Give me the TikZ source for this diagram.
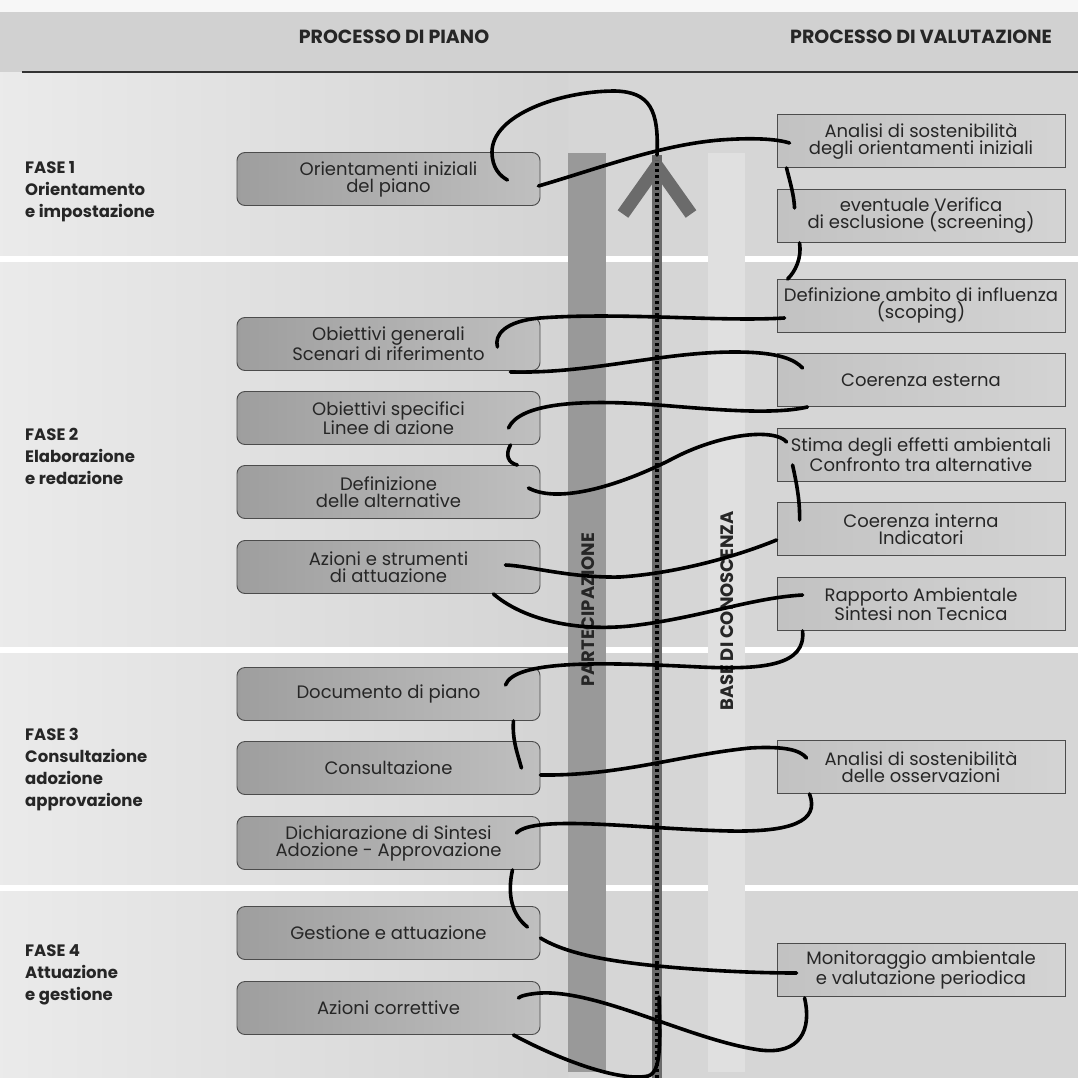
\documentclass[tikz,border=0pt]{standalone}
\usepackage{fontspec}
\setmainfont{Poppins}
\usepackage{tikz}
\usetikzlibrary{calc}
\newcommand{\boxfont}{\fontsize{18}{17}\selectfont}
\newcommand{\labfont}{\bfseries\fontsize{16.5}{22}\selectfont}

\begin{document}
\begin{tikzpicture}[x=1pt,y=-1pt,
    plan/.style={draw=black!70,line width=0.9pt,rounded corners=8pt,left color=black!38,right color=black!25,
                 minimum width=303pt,minimum height=53pt,inner sep=0pt,align=center,font=\boxfont,text=black!85},
    val/.style={draw=black!70,line width=0.9pt,left color=black!24,right color=black!17,
                minimum width=288pt,minimum height=53pt,inner sep=0pt,align=center,font=\boxfont,text=black!85},
    fase/.style={anchor=north west,inner sep=0pt,align=left,font=\labfont,text=black!85},
    head/.style={font=\bfseries\fontsize{19}{19}\selectfont,text=black!85},
    barlab/.style={rotate=90,font=\bfseries\fontsize{18}{18}\selectfont,text=black!85},
    wire/.style={line width=3.6pt,line cap=round},
    sep/.style={white,line width=6pt}]
  \useasboundingbox (0,0) rectangle (1078,1078);

  % background and header
  \fill[black!16] (0,0) rectangle (1078,1078);
  \shade[left color=black!8,right color=black!17] (0,72) rectangle (568,1078);
  \fill[black!3]  (0,0) rectangle (1078,12);
  \fill[black!18] (0,12) rectangle (1078,72);
  \draw[black!80,line width=1.2pt] (22,72) -- (1078,72);
  \foreach \y in {259,650,888}
    \draw[sep] (0,\y) -- (1078,\y);

  \node[head] (hpiano) at (394,37) {PROCESSO DI PIANO};
  \node[head] (hval)   at (921,37) {PROCESSO DI VALUTAZIONE};

  % phases
  \node[fase] (f1) at (25,161) {FASE 1\\Orientamento\\e impostazione};
  \node[fase] (f2) at (25,428) {FASE 2\\Elaborazione\\e redazione};
  \node[fase] (f3) at (25,728) {FASE 3\\Consultazione\\adozione\\approvazione};
  \node[fase] (f4) at (25,944) {FASE 4\\Attuazione\\e gestione};

  % bars and arrow
  \fill[black!40] (568,153) rectangle (606,1072);
  \fill[black!12] (708,153) rectangle (745,1072);
  \node[barlab] (partlab) at (588,610) {PARTECIPAZIONE};
  \node[barlab] (baselab) at (727,611) {BASE DI CONOSCENZA};

  \coordinate (arrtip)  at (657,155);
  \coordinate (arrbase) at (657,1078);
  \coordinate (arrloop) at (659,997);
  \draw[line width=10pt,black!58] (arrbase) -- (arrtip);
  \draw[line width=13pt,black!58,miter limit=4] (623,214) -- (657,166) -- (691,214);
  \draw[line width=3.5pt,black,dash pattern=on 3pt off 3pt] (arrbase) -- (657,160);

  % plan process
  \node[plan] (o1) at (388.5,179)  {Orientamenti iniziali\\del piano};
  \node[plan] (og) at (388.5,344)  {Obiettivi generali\\Scenari di riferimento};
  \node[plan] (os) at (388.5,418)  {Obiettivi specifici\\Linee di azione};
  \node[plan] (da) at (388.5,492)  {Definizione\\delle alternative};
  \node[plan] (az) at (388.5,567)  {Azioni e strumenti\\di attuazione};
  \node[plan] (dp) at (388.5,694)  {Documento di piano};
  \node[plan] (cs) at (388.5,768)  {Consultazione};
  \node[plan] (ds) at (388.5,843)  {Dichiarazione di Sintesi\\Adozione - Approvazione};
  \node[plan] (ga) at (388.5,933)  {Gestione e attuazione};
  \node[plan] (ac) at (388.5,1008) {Azioni correttive};

  % evaluation process
  \node[val] (asi) at (921,141) {Analisi di sostenibilità\\degli orientamenti iniziali};
  \node[val] (ver) at (921,216) {eventuale Verifica\\di esclusione (screening)};
  \node[val] (sco) at (921,306) {Definizione ambito di influenza\\(scoping)};
  \node[val] (cee) at (921,380) {Coerenza esterna};
  \node[val] (sti) at (921,455) {Stima degli effetti ambientali\\Confronto tra alternative};
  \node[val] (cei) at (921,529) {Coerenza interna\\Indicatori};
  \node[val] (rap) at (921,604) {Rapporto Ambientale\\Sintesi non Tecnica};
  \node[val] (aso) at (921,767) {Analisi di sostenibilità\\delle osservazioni};
  \node[val] (mon) at (921,970) {Monitoraggio ambientale\\e valutazione periodica};

  % the thread
  \draw[wire] (arrtip) .. controls (659,110) and (650,92) .. (615,91)
              .. controls (560,91) and (492,115) .. (492,152)
              .. controls (492,168) and (500,176) .. ($(o1.east)+(-33,1)$);
  \draw[wire] ($(o1.east)+(-2,7)$) .. controls (600,168) and (660,145) .. (720,140)
              .. controls (760,137) and (780,140) .. ($(asi.west)+(13,2)$);
  \draw[wire] ($(asi.south west)+(10,0)$) .. controls (790,182) and (794,195) .. ($(ver.west)+(18,-8)$);
  \draw[wire] ($(ver.south west)+(23,0)$) .. controls (802,258) and (795,272) .. ($(sco.north west)+(11,0)$);
  \draw[wire] ($(sco.west)+(8,12)$) .. controls (720,322) and (620,312) .. (540,318)
              .. controls (505,321) and (494,335) .. ($(og.east)+(-43,3)$);
  \draw[wire] ($(og.south east)+(-30,1)$) .. controls (590,374) and (660,352) .. (735,352)
              .. controls (780,352) and (795,360) .. ($(cee.west)+(26,-12)$);
  \draw[wire] ($(cee.south west)+(31,0)$) .. controls (770,416) and (700,408) .. (645,404)
              .. controls (580,400) and (520,403) .. ($(os.east)+(-32,10)$);
  \draw[wire] ($(os.south east)+(-30,0)$) .. controls (505,455) and (508,463) .. ($(da.north east)+(-23,0)$);
  \draw[wire] ($(da.east)+(-12,-4)$) .. controls (560,505) and (625,483) .. (670,460)
              .. controls (720,433) and (775,428) .. ($(sti.west)+(10,-13)$);
  \draw[wire] ($(sti.west)+(16,10)$) .. controls (797,485) and (800,502) .. ($(cei.west)+(23,-9)$);
  \draw[wire] ($(cei.west)+(0,11)$) .. controls (740,555) and (680,573) .. (620,577)
              .. controls (570,578) and (530,566) .. ($(az.east)+(-35,-2)$);
  \draw[wire] ($(az.south east)+(-47,0)$) .. controls (520,617) and (570,632) .. (630,626)
              .. controls (700,618) and (750,598) .. ($(rap.west)+(26,-9)$);
  \draw[wire] ($(rap.south west)+(26,0)$) .. controls (806,665) and (765,670) .. (700,667)
              .. controls (600,662) and (515,660) .. ($(dp.east)+(-35,-9)$);
  \draw[wire] ($(dp.south east)+(-27,0)$) .. controls (512,740) and (518,755) .. ($(cs.east)+(-19,0)$);
  \draw[wire] ($(cs.east)+(0,7)$) .. controls (620,776) and (680,755) .. (750,748)
              .. controls (785,746) and (800,750) .. ($(aso.west)+(30,-9)$);
  \draw[wire] ($(aso.south west)+(33,0)$) .. controls (820,822) and (790,832) .. (730,831)
              .. controls (640,829) and (535,814) .. ($(ds.east)+(-24,-10)$);
  \draw[wire] ($(ds.south east)+(-28,0)$) .. controls (507,895) and (512,915) .. ($(ga.east)+(-13,-6)$);
  \draw[wire] ($(ga.east)+(0,5)$) .. controls (570,956) and (620,963) .. (680,968)
              .. controls (730,972) and (770,973) .. ($(mon.west)+(20,3)$);
  \draw[wire] ($(mon.south west)+(28,1)$) .. controls (812,1030) and (800,1055) .. (760,1050)
              .. controls (690,1040) and (600,990) .. (540,993)
              .. controls (528,994) and (520,996) .. ($(ac.east)+(-22,-10)$);
  \draw[wire] ($(ac.south east)+(-27,0)$) .. controls (560,1060) and (620,1082) .. (648,1076)
              .. controls (662,1072) and (660,1040) .. (arrloop);
\end{tikzpicture}
\end{document}
